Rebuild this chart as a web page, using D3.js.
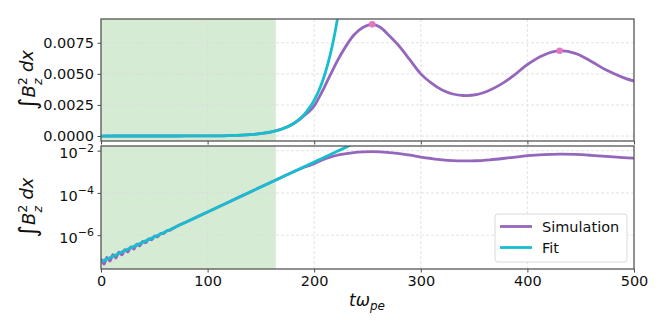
<!DOCTYPE html>
<html>
<head>
<meta charset="utf-8">
<script src="https://cdn.jsdelivr.net/npm/d3@7"></script>
<style>
  body { margin: 0; background: #fff; }
  svg { font-family: "DejaVu Sans", sans-serif; }
</style>
</head>
<body>
<svg id="chart"></svg>
<script>
// Magnetic energy growth: linear (top) and log (bottom) panels

// ---- data ----
const simT = [0, 2.8, 5.6, 8.4, 11.2, 14, 16.8, 19.6, 22.4, 25.2, 28, 30.8, 33.6, 36.4, 39.2, 42,
              44.8, 47.6, 50.4, 53.2, 56, 58.8, 61.6, 64.4, 70, 80, 100, 120, 140, 160, 175, 185,
              190, 195, 200, 207, 215, 224, 237, 246, 254.4, 262, 270, 280, 290, 300, 310, 320,
              330, 340, 352, 365, 377, 387, 400, 415, 430.3, 445, 460, 474, 490, 500];
const simV = [7.6e-8, 4.3e-8, 8.95e-8, 6.0e-8, 1.19e-7, 8.3e-8, 1.57e-7, 1.16e-7, 2.08e-7, 1.60e-7,
              2.82e-7, 2.22e-7, 3.74e-7, 3.08e-7, 5.07e-7, 4.38e-7, 6.71e-7, 6.07e-7, 9.10e-7, 8.43e-7,
              1.21e-6, 1.20e-6, 1.64e-6, 1.70e-6, 2.47e-6, 4.25e-6, 1.26e-5, 3.73e-5, 1.11e-4, 3.28e-4,
              7.4e-4, 1.25e-3, 1.6e-3, 1.95e-3, 2.42e-3, 3.5e-3, 4.9e-3, 6.4e-3, 8.1e-3, 8.75e-3,
              8.98e-3, 8.75e-3, 8.1e-3, 7.2e-3, 6.1e-3, 5.0e-3, 4.25e-3, 3.7e-3,
              3.38e-3, 3.26e-3, 3.32e-3, 3.7e-3, 4.25e-3, 4.85e-3, 5.75e-3, 6.5e-3, 6.86e-3, 6.65e-3,
              6.0e-3, 5.3e-3, 4.7e-3, 4.42e-3];

const fitT = [0, 20, 40, 60, 80, 100, 120, 140, 150, 160, 170, 180, 185, 190, 195, 200, 205,
              210, 215, 220, 225, 230, 235];
const fitV = [5.5e-8, 1.63e-7, 4.83e-7, 1.43e-6, 4.25e-6, 1.26e-5, 3.73e-5, 1.11e-4, 1.91e-4,
              3.28e-4, 5.65e-4, 9.73e-4, 1.28e-3, 1.67e-3, 2.20e-3, 2.88e-3, 3.78e-3, 4.97e-3,
              6.52e-3, 8.55e-3, 1.12e-2, 1.47e-2, 1.93e-2];

const peakT = [254.4, 430.3];
const peakV = [0.00898, 0.00686];

const shadeRange = [0, 164];
const xTicks = [0, 100, 200, 300, 400, 500];
const topTicks = [0, 0.0025, 0.005, 0.0075];
const botTicks = [1e-6, 1e-4, 1e-2];
const seriesNames = ["Simulation", "Fit"];

// ---- layout ----
const width = 664, height = 332;
const purple = "#9467bd", cyan = "#17becf", pink = "#e377c2";

const svg = d3.select("#chart").attr("width", width).attr("height", height);

const x = d3.scaleLinear().domain([0, 500]).range([101, 634]);
const yTop = d3.scaleLinear().domain([-0.0004, 0.00941]).range([141, 19]);
const yBot = d3.scaleLog().domain([Math.pow(10, -7.6), Math.pow(10, -1.78)]).range([269, 146]);

const sim = simT.map((t, i) => ({ t: t, v: simV[i] }));
const fit = fitT.map((t, i) => ({ t: t, v: fitV[i] }));
const peaks = peakT.map((t, i) => ({ t: t, v: peakV[i] }));

function panel(id, y, yTicks, isLog) {
  const [y0, y1] = y.range();
  const g = svg.append("g");

  g.append("clipPath").attr("id", id)
    .append("rect")
    .attr("x", x(0)).attr("y", y1)
    .attr("width", x(500) - x(0)).attr("height", y0 - y1);

  // shaded growth window
  g.append("rect")
    .attr("x", x(shadeRange[0])).attr("y", y1)
    .attr("width", x(shadeRange[1]) - x(shadeRange[0]))
    .attr("height", y0 - y1)
    .attr("fill", "#d5ebd4");

  // grid
  g.selectAll(".vgrid").data(xTicks.slice(1, -1)).enter().append("line")
    .attr("x1", d => x(d)).attr("x2", d => x(d))
    .attr("y1", y1).attr("y2", y0)
    .attr("stroke", "#dcdcdc").attr("stroke-width", 0.8).attr("stroke-dasharray", "3,2");
  g.selectAll(".hgrid").data(yTicks).enter().append("line")
    .attr("x1", x(0)).attr("x2", x(500))
    .attr("y1", d => y(d)).attr("y2", d => y(d))
    .attr("stroke", "#dcdcdc").attr("stroke-width", 0.8).attr("stroke-dasharray", "3,2");

  const line = d3.line().x(d => x(d.t)).y(d => y(d.v)).curve(d3.curveCatmullRom.alpha(0.5));

  const plot = g.append("g").attr("clip-path", "url(#" + id + ")");
  plot.append("path").datum(sim).attr("d", line)
    .attr("fill", "none").attr("stroke", purple).attr("stroke-width", 2.8);
  plot.append("path").datum(fit).attr("d", line)
    .attr("fill", "none").attr("stroke", cyan).attr("stroke-width", 2.8);

  // axes
  const xAxis = g.append("g")
    .attr("transform", "translate(0," + y0 + ")")
    .call(d3.axisBottom(x).tickValues(xTicks).tickSize(3.5).tickPadding(3.5)
      .tickFormat(isLog ? d3.format("d") : () => ""));
  const yAxis = g.append("g")
    .attr("transform", "translate(" + x(0) + ",0)")
    .call(d3.axisLeft(y).tickValues(yTicks).tickSize(3.5).tickPadding(3.5)
      .tickFormat(isLog ? () => "" : d3.format(".4f")));

  [xAxis, yAxis].forEach(a => {
    a.select(".domain").remove();
    a.selectAll(".tick line").attr("stroke", "#333").attr("stroke-width", 0.9);
    a.selectAll(".tick text").attr("font-size", 14.5).attr("fill", "#111")
      .attr("font-family", "DejaVu Sans");
  });

  if (isLog) {
    yAxis.selectAll(".tick text").each(function(d) {
      const t = d3.select(this);
      t.append("tspan").text("10");
      t.append("tspan").attr("dy", "-0.6em").attr("font-size", 11)
        .text("\u2212" + Math.round(-Math.log10(d)));
    }).attr("dy", "0.5em");
  }

  // frame
  g.append("rect")
    .attr("x", x(0)).attr("y", y1)
    .attr("width", x(500) - x(0)).attr("height", y0 - y1)
    .attr("fill", "none").attr("stroke", "#555").attr("stroke-width", 1.3);

  // y label
  const cy = (y0 + y1) / 2;
  const lab = g.append("text")
    .attr("transform", "translate(35," + cy + ") rotate(-90)")
    .attr("text-anchor", "middle")
    .attr("font-size", 18).attr("fill", "#111");
  lab.append("tspan").attr("font-size", 24).attr("dy", "0.05em").text("\u222B");
  lab.append("tspan").attr("font-style", "italic").attr("dy", "-0.05em").text("B");
  lab.append("tspan").attr("font-size", 12.5).attr("dy", "-0.7em").text("2");
  lab.append("tspan").attr("font-size", 12.5).attr("font-style", "italic")
    .attr("dx", "-0.62em").attr("dy", "1.2em").text("z");
  lab.append("tspan").attr("font-style", "italic").attr("dx", "0.35em").attr("dy", "-0.5em").text("dx");

  return plot;
}

const topPlot = panel("clipTop", yTop, topTicks, false);
panel("clipBot", yBot, botTicks, true);

// peak markers
topPlot.selectAll(".peak").data(peaks).enter().append("circle")
  .attr("cx", d => x(d.t)).attr("cy", d => yTop(d.v))
  .attr("r", 3.3).attr("fill", pink);

// x label
const xl = svg.append("text")
  .attr("x", 367).attr("y", 306)
  .attr("text-anchor", "middle").attr("font-size", 17).attr("fill", "#111")
  .attr("font-style", "italic");
xl.append("tspan").text("t\u03C9");
xl.append("tspan").attr("font-size", 12).attr("dy", "0.35em").text("pe");

// legend
const leg = svg.append("g").attr("transform", "translate(495,214)");
leg.append("rect")
  .attr("width", 132).attr("height", 48).attr("rx", 3)
  .attr("fill", "#fff").attr("fill-opacity", 0.85)
  .attr("stroke", "#d6d6d6").attr("stroke-width", 0.9);
seriesNames.forEach((name, i) => {
  const yy = 12.5 + i * 21;
  leg.append("line")
    .attr("x1", 5).attr("x2", 37).attr("y1", yy).attr("y2", yy)
    .attr("stroke", i === 0 ? purple : cyan).attr("stroke-width", 2.8);
  leg.append("text")
    .attr("x", 47).attr("y", yy + 5)
    .attr("font-size", 14.5).attr("fill", "#111")
    .text(name);
});
</script>
</body>
</html>
